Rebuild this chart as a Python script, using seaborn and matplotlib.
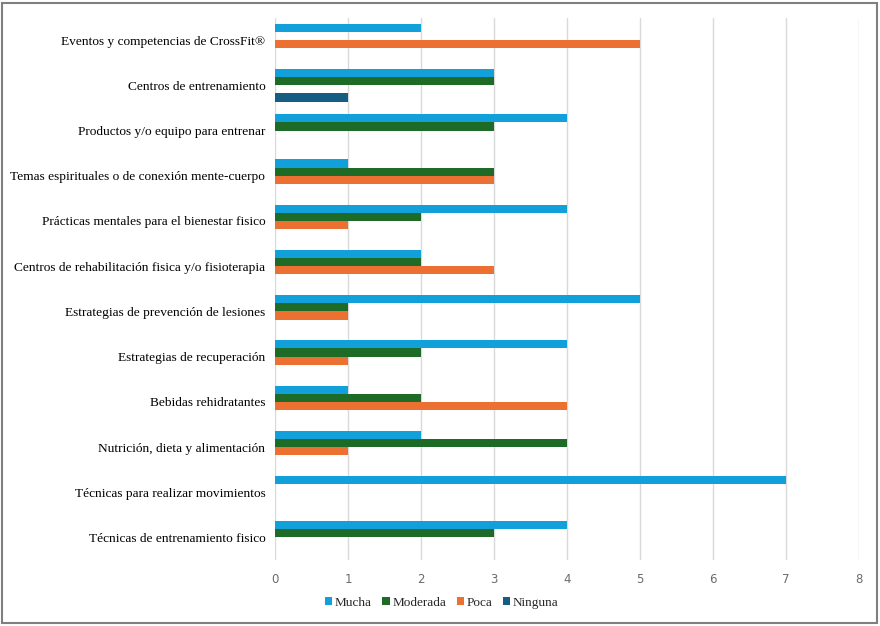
import matplotlib
matplotlib.use("Agg")
import matplotlib.pyplot as plt
from matplotlib.patches import Rectangle
import seaborn as sns
import pandas as pd

categories = [
    "Eventos y competencias de CrossFit®",
    "Centros de entrenamiento",
    "Productos y/o equipo para entrenar",
    "Temas espirituales o de conexión mente-cuerpo",
    "Prácticas mentales para el bienestar fisico",
    "Centros de rehabilitación fisica y/o fisioterapia",
    "Estrategias de prevención de lesiones",
    "Estrategias de recuperación",
    "Bebidas rehidratantes",
    "Nutrición, dieta y alimentación",
    "Técnicas para realizar movimientos",
    "Técnicas de entrenamiento fisico",
]
series = ["Mucha", "Moderada", "Poca", "Ninguna"]
mucha =    [2, 3, 4, 1, 4, 2, 5, 4, 1, 2, 7, 4]
moderada = [0, 3, 3, 3, 2, 2, 1, 2, 2, 4, 0, 3]
poca =     [5, 0, 0, 3, 1, 3, 1, 1, 4, 1, 0, 0]
ninguna =  [0, 1, 0, 0, 0, 0, 0, 0, 0, 0, 0, 0]
xticks = [0, 1, 2, 3, 4, 5, 6, 7, 8]
colors = ["#12A0DA", "#1D6B26", "#EC7032", "#155D84"]

rows = []
for s, vals in zip(series, [mucha, moderada, poca, ninguna]):
    for c, v in zip(categories, vals):
        rows.append({"cat": c, "serie": s, "val": v})
df = pd.DataFrame(rows)

sns.set_style("white")
plt.rcParams["font.family"] = ["Liberation Serif", "DejaVu Serif"]

fig = plt.figure(figsize=(8.8, 6.26), dpi=100)
ax = fig.add_axes([0.3125, 0.1054, 0.976 - 0.3125, 0.972 - 0.1054])

sns.barplot(data=df, y="cat", x="val", hue="serie", orient="h",
            order=categories, hue_order=series, palette=colors,
            width=0.72, saturation=1, errorbar=None, ax=ax, legend=True,
            linewidth=0)

ax.set_xlim(0, 8)
ax.set_xticks(xticks)
ax.set_xticklabels([str(t) for t in xticks], fontfamily="DejaVu Sans",
                   fontsize=8.5, color="#6b6b6b")
ax.set_ylim(len(categories) - 0.5, -0.5)
ax.tick_params(axis="y", labelsize=9.6, length=0, pad=7, colors="#000000")
ax.tick_params(axis="x", length=0, pad=9)
ax.set_xlabel("")
ax.set_ylabel("")
for sp in ax.spines.values():
    sp.set_visible(False)
ax.grid(axis="x", color="#d9d9d9", linewidth=1)
ax.set_axisbelow(True)

handles, labels = ax.get_legend_handles_labels()
ax.legend_.remove()
fig.legend(handles, labels, loc="center", bbox_to_anchor=(0.502, 0.037), ncol=4,
           frameon=False, fontsize=9.5, handlelength=0.55, handleheight=0.55,
           handletextpad=0.2, columnspacing=0.8)

fig.patches.append(Rectangle((0.002, 0.004), 0.995, 0.992, transform=fig.transFigure,
                             fill=False, edgecolor="#7f7f7f", linewidth=1.5))

fig.savefig("out.png", dpi=100)
